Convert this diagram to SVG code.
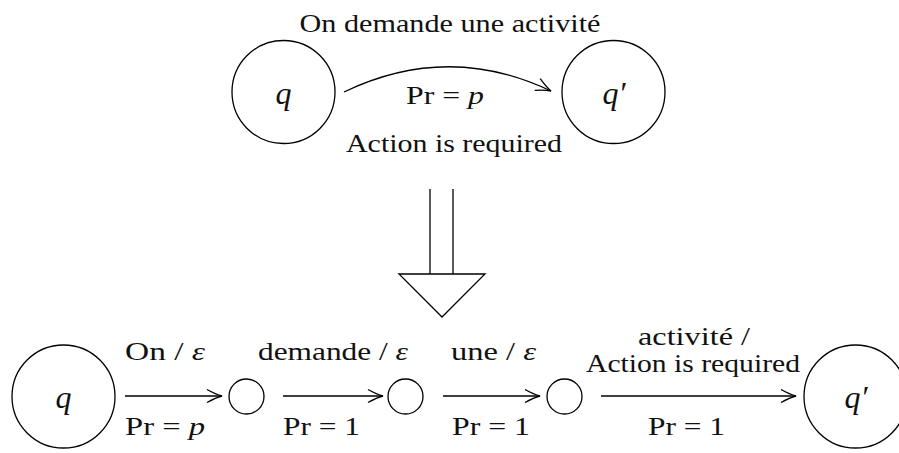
<svg xmlns="http://www.w3.org/2000/svg" width="899" height="453" viewBox="0 0 899 453">
  <style>
    .node { fill: none; stroke: #000; stroke-width: 1.3; }
    .edge { fill: none; stroke: #000; stroke-width: 1.3; }
    .lbl { font-family: "Liberation Serif", "Times New Roman", serif; font-size: 26px; fill: #111; text-anchor: middle; }
    .st { font-family: "Liberation Serif", "Times New Roman", serif; font-size: 32px; font-style: italic; fill: #111; text-anchor: middle; }
    .m { font-style: italic; }
  </style>
  <defs>
    <marker id="arr" markerUnits="userSpaceOnUse" markerWidth="20" markerHeight="16" viewBox="-17 -8 20 16" refX="0" refY="0" orient="auto">
      <path d="M -15,-6.5 Q -6,-1.5 0,0 Q -6,1.5 -15,6.5" fill="none" stroke="#000" stroke-width="1.3"/>
    </marker>
  </defs>

  <!-- upper automaton: single transition -->
  <g id="top-q">
    <circle class="node" cx="283.5" cy="92" r="51.5"/>
    <text class="st" x="283.5" y="104">q</text>
  </g>
  <g id="top-q-prime">
    <circle class="node" cx="613.5" cy="92" r="51.5"/>
    <text class="st" x="614" y="104">q′</text>
  </g>

  <!-- lower automaton: word-by-word chain -->
  <g id="bot-q">
    <circle class="node" cx="63.5" cy="396.5" r="51.5"/>
    <text class="st" x="63.5" y="408">q</text>
  </g>
  <g id="s1">
    <circle class="node" cx="246.5" cy="396.5" r="17.5"/>
  </g>
  <g id="s2">
    <circle class="node" cx="405.5" cy="396.5" r="17.5"/>
  </g>
  <g id="s3">
    <circle class="node" cx="564.5" cy="396.5" r="17.5"/>
  </g>
  <g id="bot-q-prime">
    <circle class="node" cx="855.5" cy="396.5" r="51.5"/>
    <text class="st" x="856" y="408">q′</text>
  </g>

  <!-- expansion arrow (hollow, double shaft) -->
  <g id="expand">
    <line class="edge" x1="430" y1="189" x2="430" y2="274"/>
    <line class="edge" x1="453" y1="189" x2="453" y2="274"/>
    <polygon class="edge" points="399,274 485,274 442,317"/>
  </g>

  <g id="connectors">
    <path class="edge" d="M 344,92 Q 448,42 551,91" marker-end="url(#arr)"/>
    <line class="edge" x1="125" y1="396" x2="222" y2="396" marker-end="url(#arr)"/>
    <line class="edge" x1="283" y1="396" x2="383" y2="396" marker-end="url(#arr)"/>
    <line class="edge" x1="443" y1="396" x2="540" y2="396" marker-end="url(#arr)"/>
    <line class="edge" x1="601" y1="396" x2="796" y2="396" marker-end="url(#arr)"/>
  </g>

  <g id="labels">
    <text class="lbl" x="450" y="32" textLength="301" lengthAdjust="spacingAndGlyphs">On demande une activité</text>
    <text class="lbl" x="445" y="104" textLength="78" lengthAdjust="spacingAndGlyphs">Pr = <tspan class="m">p</tspan></text>
    <text class="lbl" x="454" y="152" textLength="216" lengthAdjust="spacingAndGlyphs">Action is required</text>

    <text class="lbl" x="165" y="360" textLength="80" lengthAdjust="spacingAndGlyphs">On / <tspan class="m">ε</tspan></text>
    <text class="lbl" x="333" y="360" textLength="150" lengthAdjust="spacingAndGlyphs">demande / <tspan class="m">ε</tspan></text>
    <text class="lbl" x="493.5" y="360" textLength="85" lengthAdjust="spacingAndGlyphs">une / <tspan class="m">ε</tspan></text>
    <text class="lbl" x="694" y="345" textLength="112" lengthAdjust="spacingAndGlyphs">activité /</text>
    <text class="lbl" x="693" y="372" textLength="214" lengthAdjust="spacingAndGlyphs">Action is required</text>

    <text class="lbl" x="165" y="435" textLength="80" lengthAdjust="spacingAndGlyphs">Pr = <tspan class="m">p</tspan></text>
    <text class="lbl" x="321.5" y="435" textLength="77" lengthAdjust="spacingAndGlyphs">Pr = 1</text>
    <text class="lbl" x="491" y="435" textLength="78" lengthAdjust="spacingAndGlyphs">Pr = 1</text>
    <text class="lbl" x="686.5" y="435" textLength="77" lengthAdjust="spacingAndGlyphs">Pr = 1</text>
  </g>
</svg>
